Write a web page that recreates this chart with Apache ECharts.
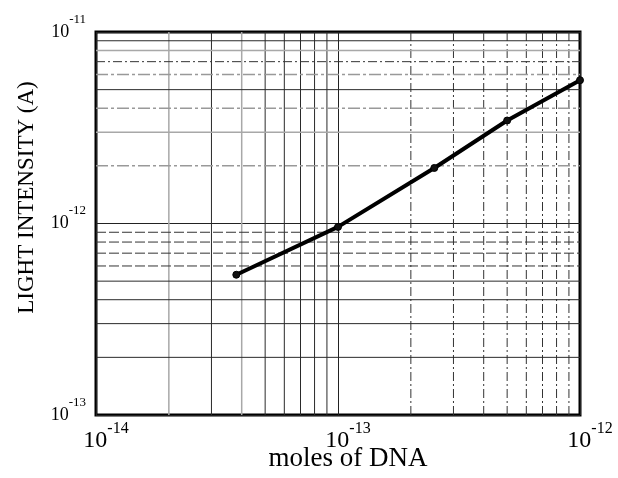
<!DOCTYPE html>
<html>
<head>
<meta charset="utf-8">
<script src="https://cdn.jsdelivr.net/npm/echarts@6/dist/echarts.min.js"></script>
<style>
  html, body { margin: 0; padding: 0; background: #fff; }
  #main { width: 618px; height: 478px; }
</style>
</head>
<body>
<div id="main"></div>
<script>
// measured points (moles of DNA vs light intensity)
var molesDNA = [3.8e-14, 1.0e-13, 2.5e-13, 5.0e-13, 1.0e-12];
var lightIntensity = [5.4e-13, 9.6e-13, 1.95e-12, 3.45e-12, 5.6e-12];

var xRange = [1e-14, 1e-12];
var yRange = [1e-13, 1e-11];

// look of each minor grid line (multiplier 2..9), per decade, as scanned
var xMinorLook = {
    '-14': ['gray', 'dark', 'gray', 'dark', 'dark', 'dark', 'dark', 'dark'],
    '-13': ['dashdot', 'dashdot', 'dashdot', 'dashdot', 'dashdot', 'dashdot', 'dashdot', 'dashdot']
};
var yMinorLook = {
    '-13': ['dark', 'dark', 'dark', 'dark', 'dash', 'dash', 'dash', 'dash'],
    '-12': ['grayDash', 'gray', 'grayDash', 'dark', 'grayDash', 'dashdot', 'gray', 'dark']
};

var looks = {
    dark: { color: '#2a2a2a', width: 1, type: 'solid' },
    gray: { color: '#a8a8a8', width: 1.5, type: 'solid' },
    dash: { color: '#333', width: 1, type: [10, 3] },
    grayDash: { color: '#999', width: 1.5, type: [12, 3, 3, 3] },
    dashdot: { color: '#333', width: 1, type: [9, 3, 2, 3] }
};

// one tiny line series per minor grid line, drawn through the axes
function gridSeries(table, vertical) {
    var out = [];
    Object.keys(table).forEach(function (dec) {
        table[dec].forEach(function (look, i) {
            var v = (i + 2) * Math.pow(10, +dec);
            out.push({
                type: 'line',
                silent: true,
                z: 1,
                symbol: 'none',
                lineStyle: looks[look],
                data: vertical ? [[v, yRange[0]], [v, yRange[1]]] : [[xRange[0], v], [xRange[1], v]]
            });
        });
    });
    return out;
}

var pts = molesDNA.map(function (x, i) { return [x, lightIntensity[i]]; });

function expLabel(v) {
    var e = Math.round(Math.log10(v));
    return '{b|10}{e|' + e + '}';
}

var serif = 'Liberation Serif';

var myChart = echarts.init(document.getElementById('main'));
var option = {
    backgroundColor: '#fff',
    animation: false,
    grid: {
        left: 96, right: 38, top: 32, bottom: 63,
        containLabel: false,
        outerBoundsMode: 'none',
        show: true,
        borderColor: '#000',
        borderWidth: 3,
        backgroundColor: 'transparent'
    },
    xAxis: {
        type: 'log',
        logBase: 10,
        min: xRange[0],
        max: xRange[1],
        interval: 1,
        name: 'moles of DNA',
        nameLocation: 'middle',
        nameGap: 30,
        nameMoveOverlap: false,
        nameTextStyle: { fontFamily: serif, fontSize: 27, color: '#000', padding: [0, 0, 0, 20] },
        axisLine: { show: false },
        axisTick: { show: false },
        splitLine: { show: true, lineStyle: { color: '#222', width: 1 } },
        axisLabel: {
            margin: 6,
            formatter: expLabel,
            padding: [0, 0, 0, 20],
            rich: {
                b: { fontFamily: serif, fontSize: 24, lineHeight: 32, color: '#000', verticalAlign: 'bottom' },
                e: { fontFamily: serif, fontSize: 16, lineHeight: 16, color: '#000', verticalAlign: 'top' }
            }
        }
    },
    yAxis: {
        type: 'log',
        logBase: 10,
        min: yRange[0],
        max: yRange[1],
        interval: 1,
        name: 'LIGHT INTENSITY (A)',
        nameLocation: 'middle',
        nameGap: 58,
        nameMoveOverlap: false,
        nameTextStyle: { fontFamily: serif, fontSize: 23, color: '#000', padding: [0, 0, 0, 52] },
        axisLine: { show: false },
        axisTick: { show: false },
        splitLine: { show: true, lineStyle: { color: '#222', width: 1 } },
        axisLabel: {
            margin: 10,
            formatter: expLabel,
            padding: [0, 0, 10, 0],
            rich: {
                b: { fontFamily: serif, fontSize: 18, lineHeight: 28, color: '#000', verticalAlign: 'bottom' },
                e: { fontFamily: serif, fontSize: 13, lineHeight: 13, color: '#000', verticalAlign: 'top' }
            }
        }
    },
    series: gridSeries(xMinorLook, true).concat(gridSeries(yMinorLook, false)).concat([{
        type: 'line',
        data: pts,
        z: 5,
        clip: false,
        symbol: 'circle',
        symbolSize: 7,
        lineStyle: { color: '#000', width: 4 },
        itemStyle: { color: '#111', borderColor: '#000', borderWidth: 1 }
    }])
};
myChart.setOption(option);
</script>
</body>
</html>
